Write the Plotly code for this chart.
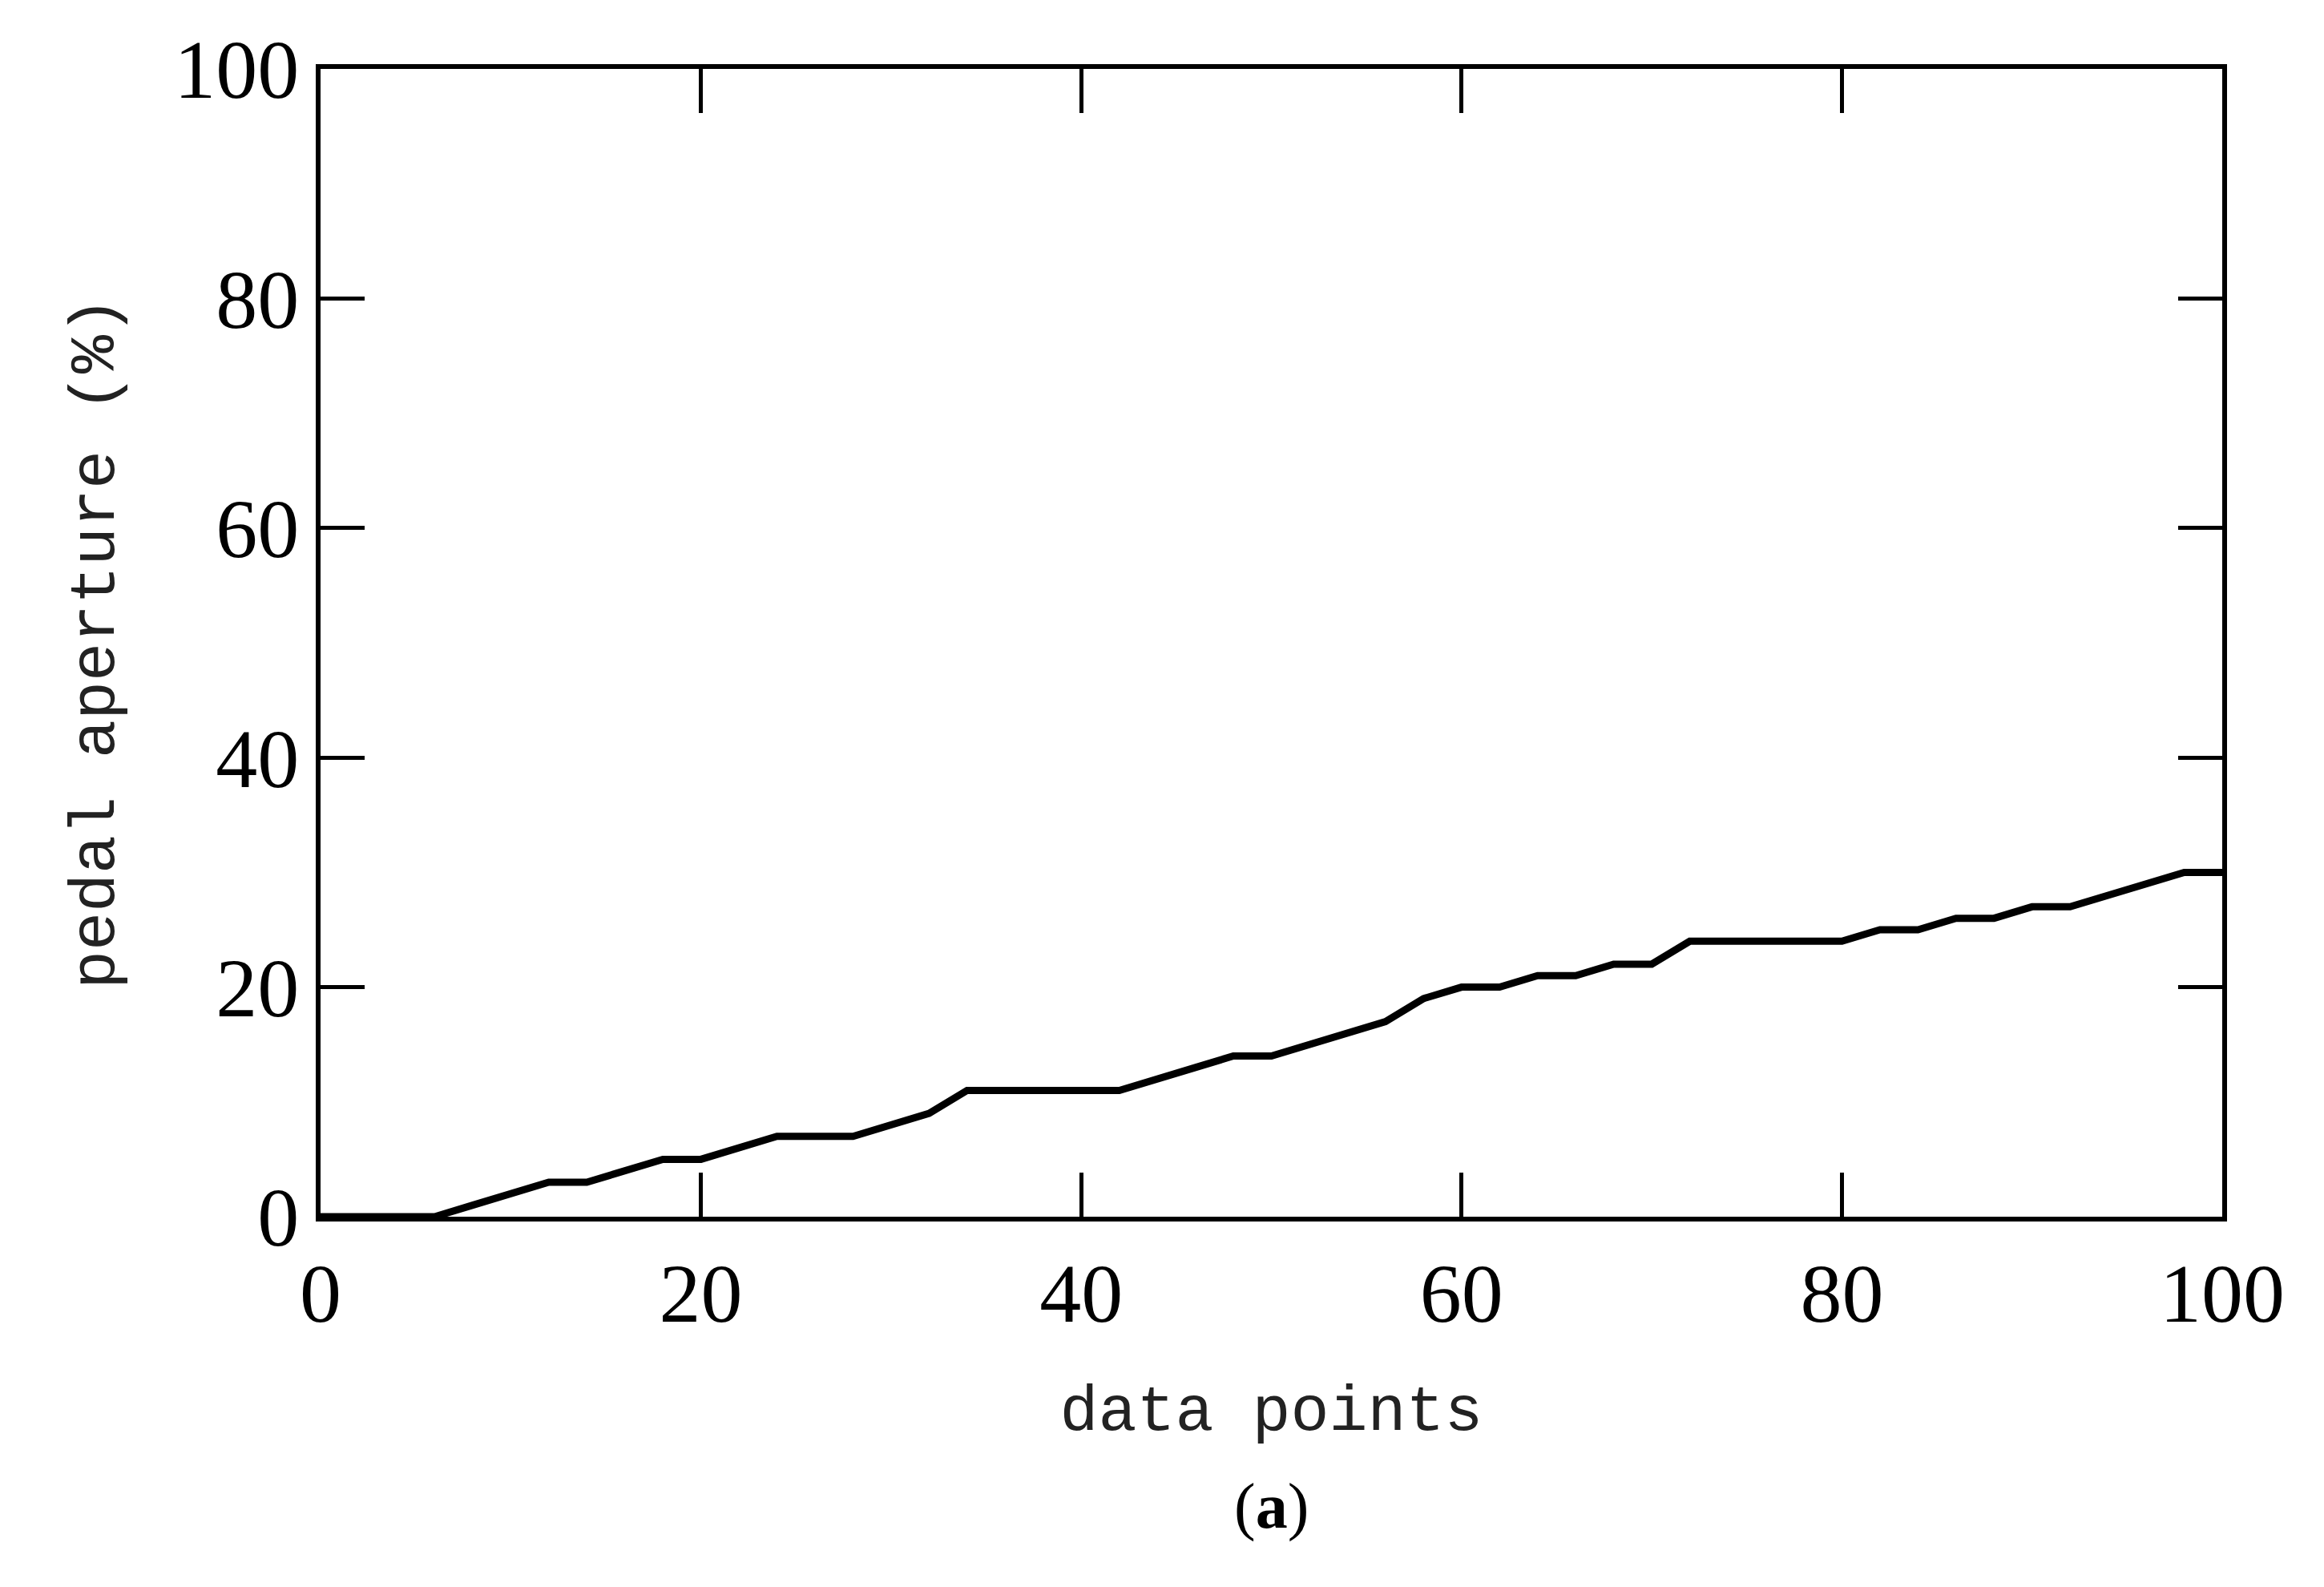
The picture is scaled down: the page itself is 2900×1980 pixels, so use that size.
import plotly.graph_objects as go

# data
x_vals = [0, 6, 8, 12, 14, 18, 20, 24, 28, 32, 34, 42, 46, 48, 50, 54, 56, 58, 60, 62,
          64, 66, 68, 70, 72, 80, 82, 84, 86, 88, 90, 92, 94, 98, 100]
y_vals = [0, 0, 1, 3, 3, 5, 5, 7, 7, 9, 11, 11, 13, 14, 14, 16, 17, 19, 20, 20,
          21, 21, 22, 22, 24, 24, 25, 25, 26, 26, 27, 27, 28, 30, 30]
tick_vals = [0, 20, 40, 60, 80, 100]

fig = go.Figure()
fig.add_trace(go.Scatter(x=x_vals, y=y_vals, mode="lines",
                         line=dict(color="black", width=9), showlegend=False))

axis_common = dict(
    range=[0, 100], tickvals=tick_vals, ticks="inside", ticklen=55, tickwidth=5,
    tickcolor="black", showline=True, linewidth=6, linecolor="black", mirror="ticks",
    showgrid=False, zeroline=False,
    tickfont=dict(family="Liberation Serif", size=104, color="black"),
)

fig.update_layout(
    width=2900, height=1980,
    paper_bgcolor="white", plot_bgcolor="white",
    margin=dict(l=392, r=135, t=78, b=470),
    xaxis=dict(**axis_common, title=dict(text="data points", standoff=60,
               font=dict(family="Liberation Mono", size=80, color="#222"))),
    yaxis=dict(**axis_common, title=dict(text="pedal aperture (%)", standoff=50,
               font=dict(family="Liberation Mono", size=80, color="#222"))),
    annotations=[dict(text="(<b>a</b>)", x=0.5, y=-0.285, xref="paper", yref="paper",
                      showarrow=False,
                      font=dict(family="Liberation Serif", size=80, color="black"))],
)

fig.write_html("out.html")
